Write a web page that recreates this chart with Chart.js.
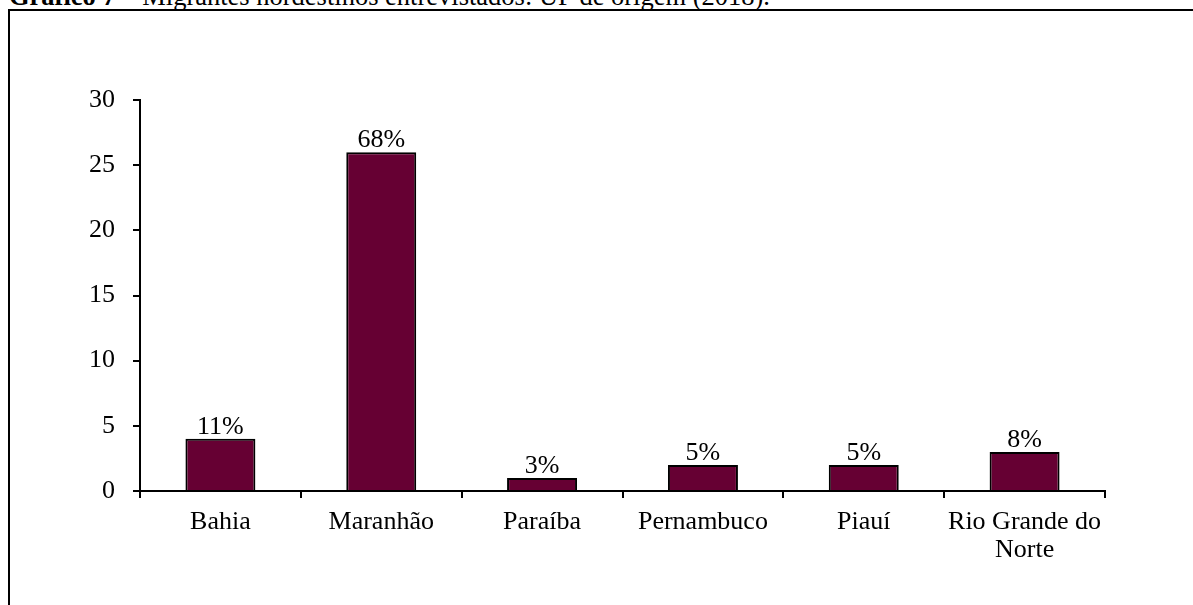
<!DOCTYPE html>
<html>
<head>
<meta charset="utf-8">
<script src="https://cdn.jsdelivr.net/npm/chart.js@4"></script>
<style>
  body { margin: 0; width: 1193px; height: 605px; overflow: hidden; background: #fff; position: relative; }
  #title { position: absolute; left: 9px; top: -19px; line-height: 26px; font: 26.5px "Liberation Serif", serif; white-space: nowrap; color: #000; }
  #frame { position: absolute; left: 8px; top: 9px; width: 1400px; height: 800px; border: 2px solid #000; }
  #chart { position: absolute; left: 0; top: 0; }
</style>
</head>
<body>
<div id="title"><b>Gráfico 7</b> – Migrantes nordestinos entrevistados: UF de origem (2018).</div>
<div id="frame"></div>
<canvas id="chart" width="1193" height="605"></canvas>
<script>
const states = ['Bahia', 'Maranhão', 'Paraíba', 'Pernambuco', 'Piauí', ['Rio Grande do', 'Norte']];
const counts = [4, 26, 1, 2, 2, 3];
const shares = ['11%', '68%', '3%', '5%', '5%', '8%'];

const serif = '"Liberation Serif", "Times New Roman", serif';

// percent labels over each bar
const barLabels = {
    id: 'barLabels',
    afterDatasetsDraw(chart) {
        const ctx = chart.ctx;
        const meta = chart.getDatasetMeta(0);
        ctx.save();
        ctx.font = '26px ' + serif;
        ctx.fillStyle = '#000';
        ctx.textAlign = 'center';
        ctx.textBaseline = 'alphabetic';
        meta.data.forEach((bar, i) => {
            ctx.fillText(shares[i], bar.x, bar.y - 5);
        });
        ctx.restore();
    }
};

new Chart(document.getElementById('chart'), {
    type: 'bar',
    data: {
        labels: states,
        datasets: [{
            data: counts,
            backgroundColor: '#660033',
            borderColor: '#000',
            borderWidth: 2,
            categoryPercentage: 1,
            barPercentage: 0.435
        }]
    },
    options: {
        responsive: false,
        animation: false,
        layout: { padding: { top: 100, right: 88, bottom: 0, left: 0 } },
        plugins: {
            legend: { display: false },
            tooltip: { enabled: false }
        },
        scales: {
            x: {
                afterFit(scale) { scale.height = 114; },
                grid: { drawOnChartArea: false, drawTicks: true, tickLength: 7, color: '#000', lineWidth: 2, offset: true },
                border: { display: true, color: '#000', width: 2 },
                ticks: { color: '#000', font: { family: serif, size: 26, lineHeight: 1.08 }, padding: 10, maxRotation: 0, autoSkip: false }
            },
            y: {
                min: 0,
                max: 30,
                afterFit(scale) { scale.width = 140; },
                grid: { drawOnChartArea: false, drawTicks: true, tickLength: 7, color: '#000', lineWidth: 2 },
                border: { display: true, color: '#000', width: 2 },
                ticks: { stepSize: 5, color: '#000', font: { family: serif, size: 26 }, padding: 18 }
            }
        }
    },
    plugins: [barLabels]
});
</script>
</body>
</html>
